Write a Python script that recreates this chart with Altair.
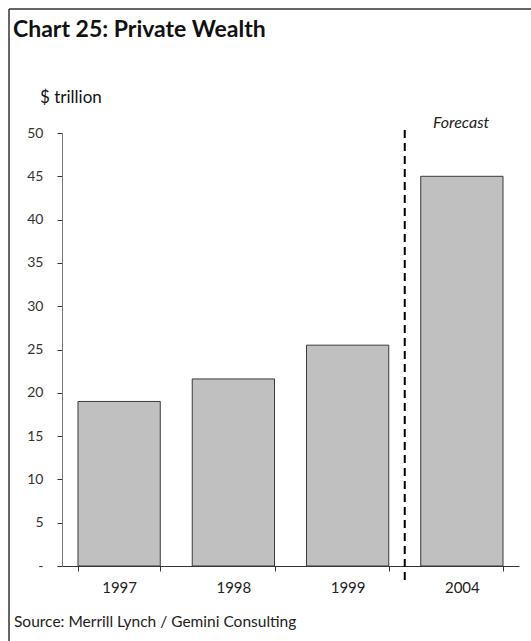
import altair as alt
import pandas as pd

# ---- data ----
years = ["1997", "1998", "1999", "2004"]
wealth = [19.0, 21.6, 25.5, 45.0]
y_ticks = [0, 5, 10, 15, 20, 25, 30, 35, 40, 45, 50]
forecast_start = ["2004"]

title_text = "Chart 25: Private Wealth"
unit_text = "$ trillion"
forecast_text = "Forecast"
source_text = "Source: Merrill Lynch / Gemini Consulting"

# ---- layout ----
W, H = 457, 433
LEFT, TOP = 62, 133
PAD_IN = 0.28
STEP = W / len(years)
FONT = "Lato"

df = pd.DataFrame({"year": years, "value": wealth})

x_scale = alt.Scale(domain=years, paddingInner=PAD_IN, paddingOuter=PAD_IN / 2)
y_scale = alt.Scale(domain=[0, 50], nice=False, zero=True)

x_axis = alt.Axis(
    title=None, labelAngle=0, tickBand="extent", tickSize=5,
    labelPadding=9, labelFont=FONT, labelFontSize=15, labelColor="#222",
    domainColor="#333", tickColor="#333", grid=False,
)

bars = alt.Chart(df).mark_bar(
    color="#c0c0c0", stroke="#3a3a3a", strokeWidth=1
).encode(
    x=alt.X("year:N", scale=x_scale, sort=years, axis=x_axis),
    y=alt.Y(
        "value:Q", scale=y_scale,
        axis=alt.Axis(
            title=None, values=y_ticks, tickSize=5, labelPadding=14,
            labelExpr="datum.value == 0 ? '-' : datum.label",
            labelFont=FONT, labelFontSize=14, labelColor="#333",
            domainColor="#777", tickColor="#333", grid=False,
        ),
    ),
)

divider = alt.Chart(pd.DataFrame({"year": forecast_start})).mark_rule(
    color="black", strokeWidth=2, strokeDash=[8, 5], xOffset=-PAD_IN * STEP / 2
).encode(
    x=alt.X("year:N", scale=x_scale, sort=years, bandPosition=0, axis=x_axis),
    y=alt.value(-3),
    y2=alt.value(H + 16),
)


def label(text, x, y, size, weight="normal", style="normal", color="#111"):
    return alt.Chart(pd.DataFrame({"t": [text]})).mark_text(
        align="left", baseline="alphabetic", font=FONT, fontSize=size,
        fontWeight=weight, fontStyle=style, color=color,
    ).encode(text="t:N", x=alt.value(x), y=alt.value(y))


title = label(title_text, 13 - LEFT, 37 - TOP, 23, weight="bold")
unit = label(unit_text, 40 - LEFT, 103 - TOP, 17)
fc = label(forecast_text, 433 - LEFT, 128 - TOP, 16, style="italic", color="#222")
src = label(source_text, 14 - LEFT, 627 - TOP, 15.5, color="#222")

frame_src = pd.DataFrame({"k": [0]})
left_border = alt.Chart(frame_src).mark_rule(color="#333", strokeWidth=1.5).encode(
    x=alt.value(9 - LEFT), y=alt.value(9 - TOP), y2=alt.value(641 - TOP)
)
top_border = alt.Chart(frame_src).mark_rule(color="#333", strokeWidth=1.5).encode(
    x=alt.value(9 - LEFT), x2=alt.value(531 - LEFT), y=alt.value(9 - TOP)
)

chart = alt.layer(
    bars, divider, title, unit, fc, src, left_border, top_border
).properties(
    width=W, height=H,
    autosize=alt.AutoSizeParams(type="none"),
    padding={"left": LEFT, "top": TOP, "right": 531 - LEFT - W, "bottom": 641 - TOP - H},
    background="white",
).configure_view(stroke=None)

chart.save("out.html", embed_options={"renderer": "svg", "actions": False})
